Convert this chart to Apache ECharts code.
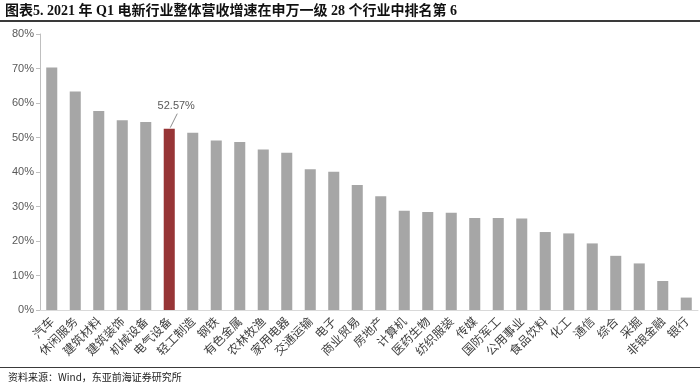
<!DOCTYPE html>
<html>
<head>
<meta charset="utf-8">
<script src="https://cdn.jsdelivr.net/npm/echarts@6/dist/echarts.min.js"></script>
<style>html,body{margin:0;padding:0;background:#fff;}#c{width:700px;height:385px;}</style>
</head>
<body>
<div id="c"></div>
<script>
const categories = ['汽车','休闲服务','建筑材料','建筑装饰','机械设备','电气设备','轻工制造','钢铁','有色金属','农林牧渔','家用电器','交通运输','电子','商业贸易','房地产','计算机','医药生物','纺织服装','传媒','国防军工','公用事业','食品饮料','化工','通信','综合','采掘','非银金融','银行'];
const values = [70.3,63.3,57.7,55.0,54.5,52.57,51.4,49.1,48.7,46.5,45.6,40.8,40.1,36.2,33.0,28.8,28.4,28.2,26.7,26.7,26.5,22.6,22.2,19.3,15.7,13.5,8.4,3.6];
const highlight = '电气设备';
const yTicks = [0, 80, 10];
const titleText = '图表5. 2021 年 Q1 电新行业整体营收增速在申万一级 28 个行业中排名第 6';
const sourceText = '资料来源：Wind，东亚前海证券研究所';

const chart = echarts.init(document.getElementById('c'));
const hiIdx = categories.indexOf(highlight);
const data = values.map((v, i) => i === hiIdx ? { value: v, itemStyle: { color: '#973536' } } : v);

chart.setOption({
  animation: false,
  grid: { left: 40, right: 2, top: 34, bottom: 75 },
  graphic: [
    { type: 'text', left: 5, top: 4, style: { text: titleText, font: 'bold 14px "Liberation Serif", "Times New Roman", "Noto Sans CJK SC", serif', fill: '#111' } },
    { type: 'rect', shape: { x: 0, y: 20, width: 700, height: 2 }, style: { fill: '#3a3a3a' } },
    { type: 'rect', shape: { x: 0, y: 367, width: 700, height: 1 }, style: { fill: '#3a3a3a' } },
    { type: 'text', left: 8, top: 372, style: { text: sourceText, font: '10px "Noto Sans CJK SC", sans-serif', fill: '#222' } }
  ],
  xAxis: {
    type: 'category',
    data: categories,
    axisLine: { lineStyle: { color: '#d9d9d9' } },
    axisTick: { show: false },
    axisLabel: { interval: 0, rotate: 45, fontSize: 12, color: '#404040', fontFamily: '"Noto Sans CJK SC", sans-serif', margin: 9 }
  },
  yAxis: {
    type: 'value',
    min: yTicks[0], max: yTicks[1], interval: yTicks[2],
    splitLine: { show: false },
    axisLine: { show: true, lineStyle: { color: '#bfbfbf' } },
    axisTick: { show: true, length: 4, lineStyle: { color: '#bfbfbf' } },
    axisLabel: { formatter: '{value}%', fontSize: 11, color: '#595959', fontFamily: 'Arial, "Liberation Sans", sans-serif', margin: 6 }
  },
  series: [{
    type: 'bar',
    data: data,
    barWidth: '47%',
    itemStyle: { color: '#a6a6a6' }
  }, {
    type: 'custom',
    data: [[hiIdx, values[hiIdx]]],
    silent: true,
    renderItem: function (params, api) {
      const p = api.coord([api.value(0), api.value(1)]);
      return {
        type: 'group',
        children: [
          { type: 'line', shape: { x1: p[0] + 1, y1: p[1] - 1, x2: p[0] + 8, y2: p[1] - 15 }, style: { stroke: '#8c8c8c', lineWidth: 1 } },
          { type: 'text', x: p[0] + 7, y: p[1] - 23, style: { text: values[hiIdx].toFixed(2) + '%', align: 'center', verticalAlign: 'middle', fill: '#595959', font: '11px Arial, "Liberation Sans", sans-serif' } }
        ]
      };
    }
  }]
});
</script>
</body>
</html>
